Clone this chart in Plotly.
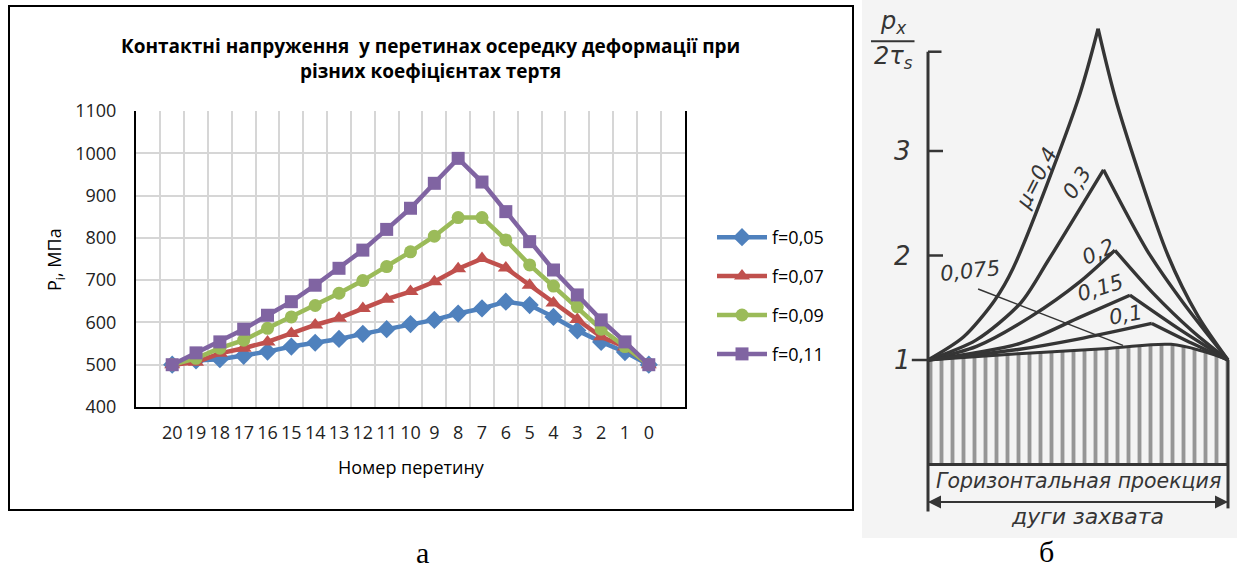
import plotly.graph_objects as go

W, H = 1237, 574

# ---------------- left chart data ----------------
sections = ["20", "19", "18", "17", "16", "15", "14", "13", "12", "11", "10",
            "9", "8", "7", "6", "5", "4", "3", "2", "1", "0"]
f005 = [500, 510, 513, 521, 531, 543, 552, 561, 573, 584, 596, 606, 621, 633, 649, 641, 613, 581, 554, 530, 500]
f007 = [500, 506, 527, 539, 554, 574, 594, 610, 633, 655, 673, 696, 727, 751, 729, 688, 646, 607, 566, 542, 500]
f009 = [500, 515, 539, 558, 586, 613, 640, 669, 699, 732, 767, 804, 848, 848, 795, 736, 686, 637, 584, 543, 500]
f011 = [500, 528, 554, 584, 617, 649, 688, 728, 771, 820, 870, 929, 988, 932, 862, 791, 724, 665, 606, 554, 500]
series_names = ["f=0,05", "f=0,07", "f=0,09", "f=0,11"]
series_vals = [f005, f007, f009, f011]
series_colors = ["#4F81BD", "#C0504D", "#9BBB59", "#8064A2"]
series_symbols = ["diamond", "triangle-up", "circle", "square"]
series_msize = [14, 14, 13, 13]
y_ticks = [400, 500, 600, 700, 800, 900, 1000, 1100]

# ---------------- right diagram data (arc fraction, p/2tau_s) ----------------
mu_labels = ["μ=0,4", "0,3", "0,2", "0,15", "0,1", "0,075"]
mu04_left_x = [0, 0.118, 0.222, 0.284, 0.5, 0.567]
mu04_left_y = [1.0, 1.22, 1.57, 1.88, 3.49, 4.17]
mu04_right_x = [0.567, 0.63, 0.80, 0.90, 1.0]
mu04_right_y = [4.17, 3.45, 2.0, 1.42, 1.0]
mu03_left_x = [0, 0.16, 0.31, 0.40, 0.585]
mu03_left_y = [1.0, 1.19, 1.55, 1.95, 2.82]
mu03_right_x = [0.585, 0.73, 0.85, 1.0]
mu03_right_y = [2.82, 2.05, 1.55, 1.0]
mu02_left_x = [0, 0.162, 0.34, 0.507, 0.623]
mu02_left_y = [1.0, 1.13, 1.41, 1.75, 2.05]
mu02_right_x = [0.623, 0.75, 0.88, 1.0]
mu02_right_y = [2.05, 1.64, 1.28, 1.0]
mu015_left_x = [0, 0.307, 0.507, 0.673]
mu015_left_y = [1.0, 1.16, 1.41, 1.62]
mu015_right_x = [0.673, 0.84, 1.0]
mu015_right_y = [1.62, 1.29, 1.0]
mu01_left_x = [0, 0.3, 0.5, 0.746]
mu01_left_y = [1.0, 1.1, 1.2, 1.35]
mu01_right_x = [0.746, 0.88, 1.0]
mu01_right_y = [1.35, 1.16, 1.0]
mu0075_x = [0, 0.3, 0.6, 0.81, 0.92, 1.0]
mu0075_y = [1.0, 1.06, 1.11, 1.15, 1.08, 1.0]
base_x = [0, 1.0]
base_y = [0, 0]
diag_ticks = [1, 2, 3]

fig = go.Figure()

# left chart traces
for name, vals, col, sym, ms in zip(series_names, series_vals, series_colors, series_symbols, series_msize):
    fig.add_trace(go.Scatter(
        x=sections, y=vals, name=name, mode="lines+markers",
        line=dict(color=col, width=4.5),
        marker=dict(symbol=sym, size=ms, color=col),
        xaxis="x", yaxis="y", legendgroup=name))

# right diagram traces
dark = "#353535"
fig.add_trace(go.Scatter(x=base_x, y=base_y, mode="lines", line=dict(color=dark, width=3),
                         xaxis="x2", yaxis="y2", showlegend=False, hoverinfo="skip"))
fig.add_trace(go.Scatter(x=mu0075_x, y=mu0075_y, mode="lines", line=dict(color=dark, width=3, shape="spline"),
                         fill="tonexty", fillcolor="rgba(0,0,0,0)",
                         fillpattern=dict(shape="|", size=11, solidity=0.35, fgcolor="#383838",
                                          bgcolor="rgba(0,0,0,0)"),
                         xaxis="x2", yaxis="y2", showlegend=False, hoverinfo="skip"))
for xs, ys in [(mu04_left_x, mu04_left_y), (mu04_right_x, mu04_right_y),
               (mu03_left_x, mu03_left_y), (mu03_right_x, mu03_right_y),
               (mu02_left_x, mu02_left_y), (mu02_right_x, mu02_right_y),
               (mu015_left_x, mu015_left_y), (mu015_right_x, mu015_right_y),
               (mu01_left_x, mu01_left_y), (mu01_right_x, mu01_right_y)]:
    fig.add_trace(go.Scatter(x=xs, y=ys, mode="lines",
                             line=dict(color=dark, width=3.4, shape="spline", smoothing=0.8),
                             xaxis="x2", yaxis="y2", showlegend=False, hoverinfo="skip"))

def px_x(p):
    return p / W

def px_y(p):
    return 1 - p / H

shapes = []
# scanned paper background
shapes.append(dict(type="rect", xref="paper", yref="paper", x0=px_x(862), x1=1, y0=px_y(538), y1=1,
                   fillcolor="#f4f4f4", line=dict(width=0), layer="below"))
# outer chart border
shapes.append(dict(type="rect", xref="paper", yref="paper", x0=px_x(9), x1=px_x(853), y0=px_y(510), y1=px_y(6),
                   line=dict(color="black", width=2), layer="above"))
# diagram axis and box
shapes += [
    dict(type="line", xref="x2", yref="y2", x0=0, x1=0, y0=-0.45, y1=3.95, line=dict(color=dark, width=3)),
    dict(type="line", xref="x2", yref="y2", x0=1, x1=1, y0=-0.42, y1=1.0, line=dict(color=dark, width=3)),
    dict(type="line", xref="x2", yref="y2", x0=0, x1=0.045, y0=3.95, y1=3.95, line=dict(color=dark, width=2.5)),
    dict(type="line", xref="x2", yref="y2", x0=0, x1=0.05, y0=3, y1=3, line=dict(color=dark, width=2.5)),
    dict(type="line", xref="x2", yref="y2", x0=0.003, x1=0.05, y0=2, y1=2, line=dict(color=dark, width=2.5)),
    dict(type="line", xref="x2", yref="y2", x0=-0.054, x1=0, y0=1, y1=1, line=dict(color=dark, width=2.5)),
    # leader line for 0,075
    dict(type="line", xref="x2", yref="y2", x0=0.167, x1=0.65, y0=1.68, y1=1.14, line=dict(color=dark, width=1.5)),
    # fraction bar of p_x / 2tau_s
    dict(type="line", xref="x2", yref="y2", x0=-0.19, x1=-0.045, y0=4.05, y1=4.05, line=dict(color=dark, width=2)),
]

C = dict(xanchor="center", yanchor="middle", showarrow=False)
ann = []
ann.append(dict(text="<b>Контактні напруження  у перетинах осередку деформації при<br>різних коефіцієнтах тертя</b>",
                xref="paper", yref="paper", x=px_x(430), y=px_y(58),
                font=dict(size=19, color="black", family="Open Sans"), align="center", **C))
ann.append(dict(text="Номер перетину", xref="paper", yref="paper", x=px_x(411), y=px_y(467),
                font=dict(size=18, color="black", family="Open Sans"), **C))
ann.append(dict(text="P<sub>i</sub>, МПа", xref="paper", yref="paper", x=px_x(55), y=px_y(260),
                textangle=-90, font=dict(size=18, color="black", family="Open Sans"), **C))
ann.append(dict(text="а", xref="paper", yref="paper", x=px_x(422), y=px_y(552),
                font=dict(size=30, color="black", family="Liberation Serif"), **C))
ann.append(dict(text="б", xref="paper", yref="paper", x=px_x(1046), y=px_y(551),
                font=dict(size=30, color="black", family="Liberation Serif"), **C))

ifont = dict(family="DejaVu Sans", color=dark)
for t, y in zip(diag_ticks, [1, 2, 3]):
    ann.append(dict(text=f"<i>{t}</i>", xref="x2", yref="y2", x=-0.085, y=y,
                    font=dict(size=26, **ifont), **C))
ann.append(dict(text="<i>p<sub>x</sub></i>", xref="x2", yref="y2", x=-0.115, y=4.225,
                font=dict(size=24, **ifont), **C))
ann.append(dict(text="<i>2τ<sub>s</sub></i>", xref="x2", yref="y2", x=-0.115, y=3.895,
                font=dict(size=24, **ifont), **C))
label_pos = [(0.362, 2.74, -63), (0.497, 2.69, -57), (0.568, 2.03, -25),
             (0.575, 1.69, -17), (0.657, 1.43, -10), (0.14, 1.85, -6)]
for lab, (lx, ly, ang) in zip(mu_labels, label_pos):
    ann.append(dict(text=f"<i>{lab}</i>", xref="x2", yref="y2", x=lx, y=ly,
                    textangle=ang, font=dict(size=21, **ifont), **C))
ann.append(dict(text="<i>Горизонтальная проекция</i>", xref="x2", yref="y2", x=0.5, y=-0.16,
                font=dict(size=20.5, **ifont), **C))
ann.append(dict(text="<i>дуги захвата</i>", xref="x2", yref="y2", x=0.53, y=-0.5,
                font=dict(size=22, **ifont), **C))
for a, b in [(1.0, 0.0), (0.0, 1.0)]:
    ann.append(dict(text="", xref="x2", yref="y2", axref="x2", ayref="y2", x=a, y=-0.36, ax=b, ay=-0.36,
                    showarrow=True, arrowhead=2, arrowsize=1.3, arrowwidth=2, arrowcolor=dark))

fig.update_layout(
    width=W, height=H, margin=dict(l=0, r=0, t=0, b=0, autoexpand=False),
    paper_bgcolor="white", plot_bgcolor="white",
    showlegend=True,
    legend=dict(x=px_x(712), y=px_y(219), xanchor="left", yanchor="top",
                font=dict(size=18, color="black", family="Open Sans"),
                tracegroupgap=12.5, bgcolor="rgba(0,0,0,0)", itemwidth=50),
    xaxis=dict(domain=[px_x(136), px_x(685)], type="category", tickson="boundaries",
               showgrid=True, gridcolor="#d6d6d6", gridwidth=2, tickangle=0,
               showline=True, linecolor="black", linewidth=2, ticks="",
               ticklabelstandoff=8, automargin=False,
               tickfont=dict(size=18, color="#222", family="Open Sans"), anchor="y"),
    yaxis=dict(domain=[px_y(407), px_y(111)], range=[400, 1100], tickvals=y_ticks,
               showgrid=True, gridcolor="#d6d6d6", gridwidth=2, zeroline=False,
               showline=True, linecolor="black", linewidth=2, mirror=True, ticks="",
               ticklabelstandoff=14, automargin=False,
               tickfont=dict(size=18, color="#222", family="Open Sans"), anchor="x"),
    xaxis2=dict(domain=[px_x(870), 1], range=[(870 - 928) / 300, (1237 - 928) / 300],
                visible=False, anchor="y2"),
    yaxis2=dict(domain=[0, 1], range=[1 - (574 - 360) / 104.5, 1 + 360 / 104.5],
                visible=False, anchor="x2"),
    shapes=shapes, annotations=ann,
)

fig.write_html("out.html")
